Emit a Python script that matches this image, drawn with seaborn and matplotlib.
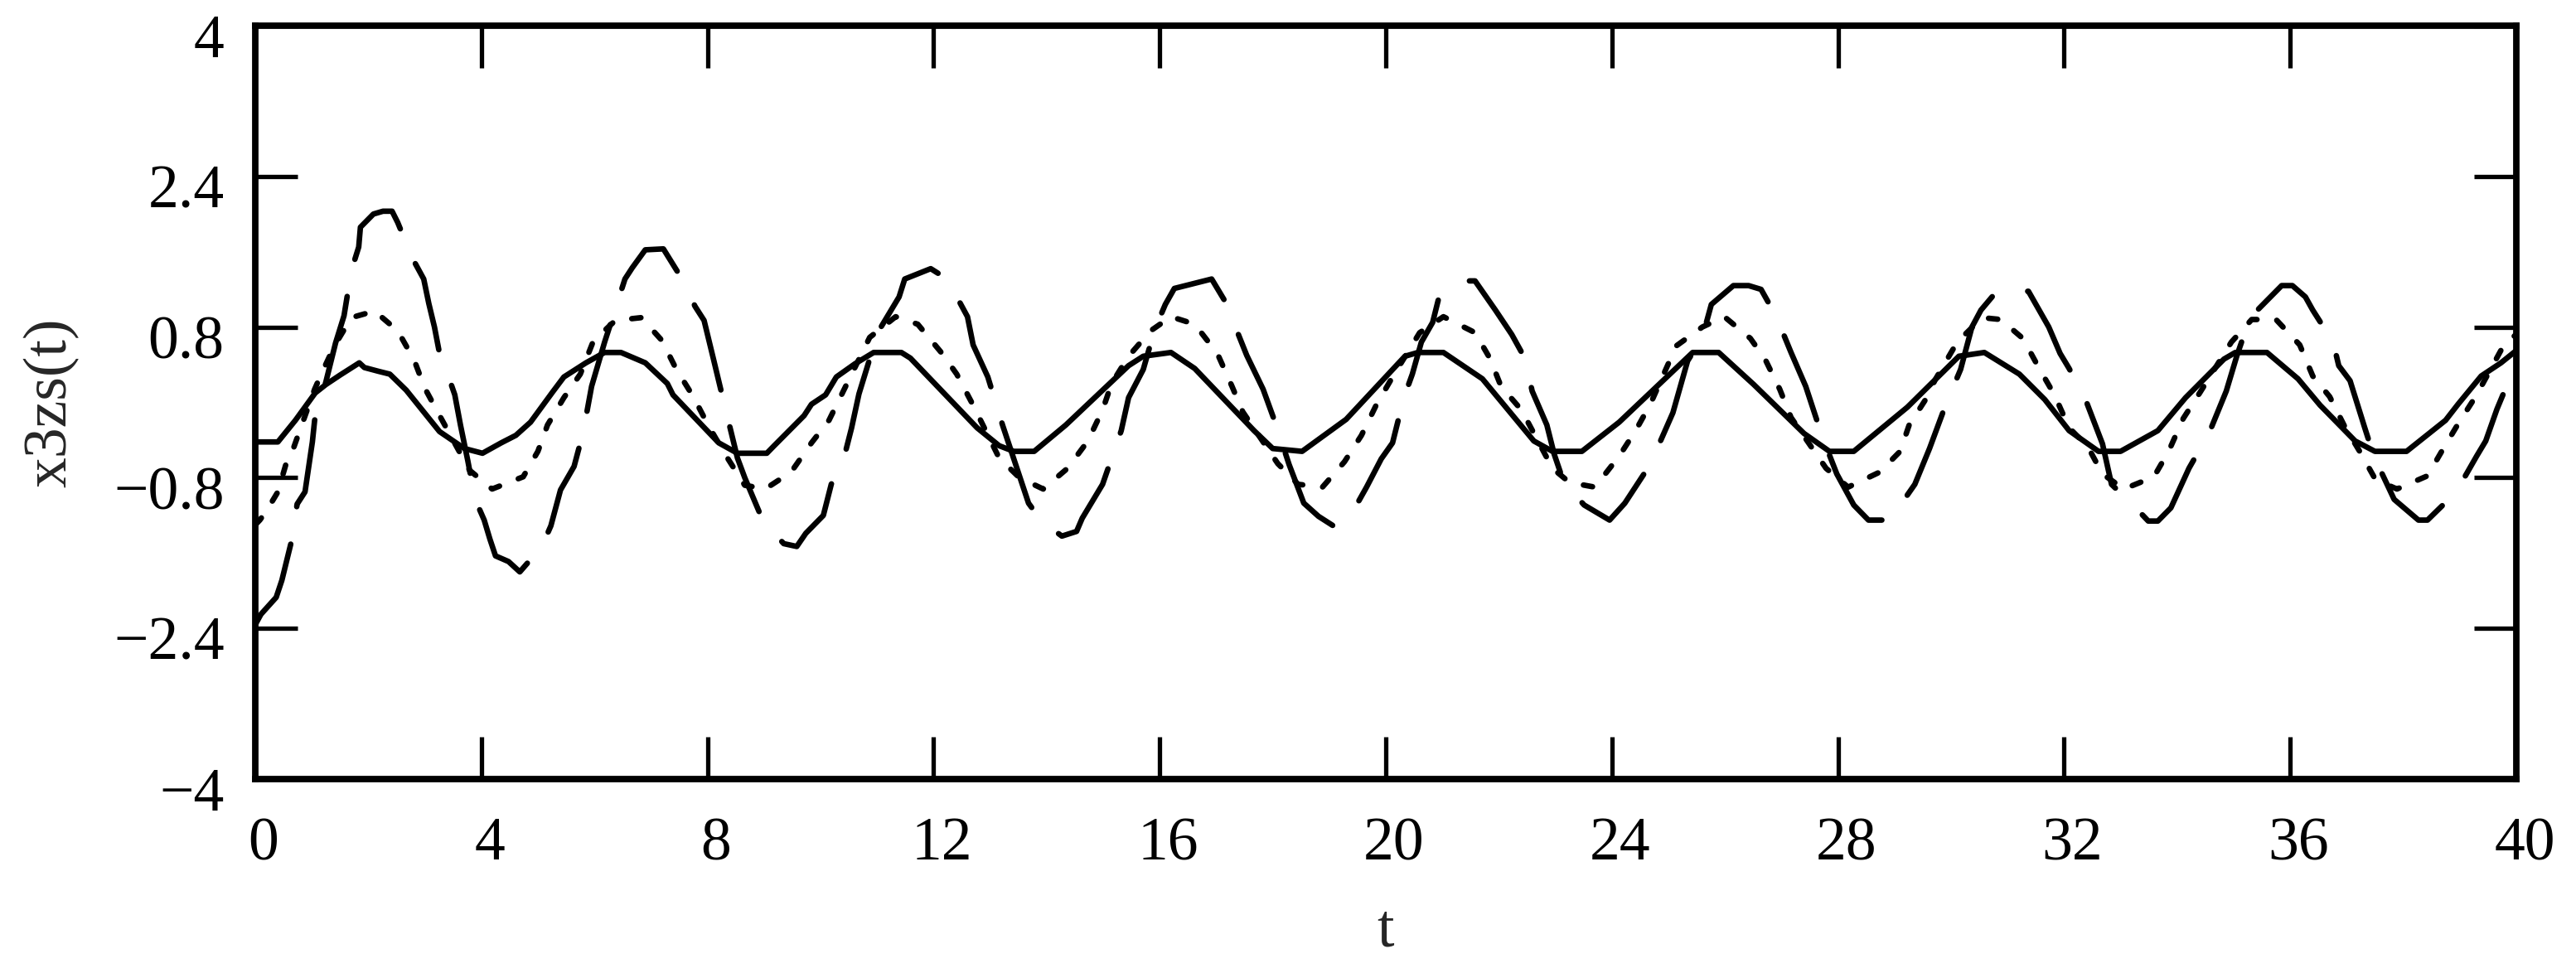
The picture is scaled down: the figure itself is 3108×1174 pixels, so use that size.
import matplotlib
matplotlib.use("Agg")
import matplotlib.pyplot as plt
import matplotlib.transforms as mtransforms
import pandas as pd
import seaborn as sns

# values, (t, x3zs) pairs for each trace
solid = [(0.00, -0.42), (0.40, -0.42), (0.71, -0.19), (1.06, 0.10), (1.25, 0.19), (1.50, 0.29),
         (1.84, 0.42), (1.93, 0.37), (2.18, 0.33), (2.38, 0.30), (2.67, 0.13), (3.26, -0.31),
         (3.70, -0.49), (4.02, -0.54), (4.35, -0.43), (4.61, -0.35), (4.87, -0.21), (5.26, 0.11),
         (5.46, 0.27), (5.85, 0.42), (6.18, 0.53), (6.47, 0.53), (6.90, 0.42), (7.29, 0.20),
         (7.39, 0.08), (8.20, -0.43), (8.53, -0.54), (9.05, -0.54), (9.18, -0.46), (9.71, -0.14),
         (9.84, -0.02), (10.09, 0.08), (10.28, 0.27), (10.61, 0.41), (10.94, 0.53), (11.43, 0.53),
         (11.59, 0.47), (12.77, -0.27), (13.16, -0.46), (13.42, -0.52), (13.78, -0.52), (14.34, -0.24),
         (15.45, 0.39), (15.71, 0.49), (16.20, 0.53), (16.62, 0.36), (17.67, -0.30), (18.00, -0.49),
         (18.52, -0.52), (19.30, -0.18), (20.34, 0.49), (20.57, 0.53), (21.02, 0.53), (21.71, 0.25),
         (22.62, -0.41), (22.95, -0.52), (23.47, -0.52), (24.13, -0.21), (25.43, 0.53), (25.89, 0.53),
         (26.51, 0.19), (27.40, -0.33), (27.85, -0.52), (28.28, -0.52), (29.23, -0.05), (30.14, 0.49),
         (30.59, 0.53), (31.21, 0.30), (31.66, 0.03), (32.09, -0.30), (32.61, -0.52), (33.00, -0.52),
         (33.66, -0.30), (34.15, 0.05), (34.83, 0.46), (35.03, 0.53), (35.59, 0.53), (36.14, 0.25),
         (36.53, -0.03), (37.15, -0.41), (37.50, -0.52), (38.06, -0.52), (38.75, -0.19), (38.97, -0.02),
         (39.38, 0.28), (39.73, 0.42), (40.00, 0.55)]

dotted = [(0.00, -1.30), (0.08, -1.25), (0.20, -1.15), (0.40, -0.95), (0.55, -0.64), (0.65, -0.53),
          (0.78, -0.31), (1.05, 0.14), (1.19, 0.33), (1.40, 0.60), (1.70, 0.90), (2.11, 0.97),
          (2.52, 0.76), (2.81, 0.45), (3.00, 0.15), (3.27, -0.15), (3.79, -0.72), (4.19, -0.92),
          (4.74, -0.79), (5.00, -0.52), (5.17, -0.24), (5.46, 0.05), (5.75, 0.30), (5.98, 0.65),
          (6.37, 0.87), (6.83, 0.90), (7.19, 0.66), (7.45, 0.35), (7.75, 0.06), (8.01, -0.24),
          (8.30, -0.54), (8.66, -0.88), (9.02, -0.92), (9.48, -0.74), (9.84, -0.43), (10.15, -0.19),
          (10.87, 0.69), (11.33, 0.91), (11.72, 0.83), (12.15, 0.52), (12.41, 0.30), (12.70, -0.03),
          (13.16, -0.59), (13.52, -0.80), (13.94, -0.92), (14.37, -0.70), (14.73, -0.41), (14.99, -0.08),
          (15.15, 0.20), (15.45, 0.49), (15.84, 0.76), (16.20, 0.91), (16.62, 0.83), (17.02, 0.52),
          (17.28, 0.17), (17.47, -0.10), (18.09, -0.65), (18.45, -0.87), (18.88, -0.90), (19.27, -0.63),
          (19.57, -0.35), (19.83, -0.03), (20.12, 0.27), (20.60, 0.74), (21.02, 0.91), (21.58, 0.74),
          (21.84, 0.47), (22.04, 0.17), (22.40, -0.08), (22.95, -0.70), (23.25, -0.85), (23.70, -0.90),
          (24.13, -0.57), (24.42, -0.30), (24.68, -0.02), (24.88, 0.25), (25.14, 0.60), (25.60, 0.80),
          (25.99, 0.91), (26.45, 0.68), (26.71, 0.46), (26.97, 0.14), (27.17, -0.16), (27.79, -0.70),
          (28.18, -0.90), (28.74, -0.74), (29.10, -0.52), (29.26, -0.24), (29.55, 0.03), (29.72, 0.24),
          (30.11, 0.64), (30.55, 0.90), (30.88, 0.88), (31.27, 0.68), (31.57, 0.35), (31.83, 0.08),
          (32.09, -0.27), (32.42, -0.47), (32.68, -0.76), (33.06, -0.92), (33.59, -0.79), (33.85, -0.52),
          (34.11, -0.17), (34.41, 0.11), (34.96, 0.64), (35.32, 0.88), (35.75, 0.88), (36.17, 0.61),
          (36.40, 0.28), (36.70, 0.06), (36.96, -0.25), (37.25, -0.54), (37.51, -0.82), (37.89, -0.92),
          (38.43, -0.78), (38.72, -0.48), (38.98, -0.22), (39.29, 0.07), (39.80, 0.63), (40.00, 0.72)]

longdash = [(0.00, -2.36), (0.10, -2.25), (0.37, -2.07), (0.47, -1.89), (0.65, -1.45), (0.74, -1.08),
            (0.88, -0.95), (1.01, -0.42), (1.05, -0.19), (1.25, 0.22), (1.42, 0.63), (1.57, 0.92),
            (1.70, 1.40), (1.83, 1.65), (1.86, 1.86), (2.09, 2.00), (2.26, 2.03), (2.42, 2.03),
            (2.52, 1.91), (2.78, 1.53), (2.98, 1.31), (3.07, 1.05), (3.17, 0.80), (3.25, 0.55),
            (3.42, 0.27), (3.53, 0.08), (3.63, -0.24), (3.76, -0.62), (3.89, -1.03), (4.05, -1.25),
            (4.15, -1.45), (4.25, -1.63), (4.48, -1.69), (4.68, -1.80), (5.07, -1.53), (5.23, -1.31),
            (5.40, -0.93), (5.64, -0.68), (5.80, -0.32), (5.95, 0.17), (6.18, 0.64), (6.38, 1.01),
            (6.54, 1.31), (6.67, 1.43), (6.90, 1.62), (7.22, 1.63), (7.55, 1.31), (7.78, 1.02),
            (7.94, 0.87), (8.11, 0.45), (8.27, 0.05), (8.53, -0.59), (8.66, -0.80), (8.92, -1.17),
            (9.05, -1.31), (9.35, -1.50), (9.58, -1.53), (9.74, -1.39), (10.05, -1.20), (10.19, -0.87),
            (10.41, -0.60), (10.55, -0.27), (10.68, 0.09), (10.90, 0.52), (11.07, 0.80), (11.39, 1.12),
            (11.49, 1.31), (11.95, 1.42), (12.24, 1.31), (12.60, 0.91), (12.70, 0.61), (12.96, 0.27),
            (13.22, -0.24), (13.42, -0.60), (13.68, -1.07), (13.91, -1.26), (14.27, -1.42), (14.53, -1.37),
            (14.63, -1.23), (14.99, -0.87), (15.32, -0.30), (15.45, 0.05), (15.71, 0.35), (15.91, 0.77),
            (16.10, 1.04), (16.26, 1.21), (16.92, 1.31), (17.18, 1.05), (17.38, 0.74), (17.54, 0.50),
            (17.83, 0.14), (18.06, -0.24), (18.29, -0.66), (18.55, -1.07), (18.81, -1.21), (19.07, -1.31),
            (19.37, -1.21), (19.66, -0.90), (19.92, -0.60), (20.12, -0.43), (20.32, 0.05), (20.47, 0.30),
            (20.63, 0.64), (20.83, 0.85), (20.93, 1.09), (21.12, 1.15), (21.38, 1.29), (21.58, 1.29),
            (21.94, 0.98), (22.23, 0.72), (22.46, 0.47), (22.59, 0.12), (22.85, -0.24), (22.98, -0.55),
            (23.15, -0.85), (23.51, -1.09), (23.96, -1.25), (24.23, -1.07), (24.59, -0.74), (24.78, -0.52),
            (25.08, -0.11), (25.34, 0.44), (25.60, 0.69), (25.76, 1.04), (26.15, 1.24), (26.42, 1.24),
            (26.64, 1.20), (26.91, 0.91), (27.17, 0.53), (27.43, 0.17), (27.72, -0.36), (27.98, -0.76),
            (28.28, -1.09), (28.54, -1.25), (28.90, -1.25), (29.00, -1.18), (29.36, -0.87), (29.62, -0.49),
            (29.91, -0.02), (30.17, 0.35), (30.37, 0.80), (30.53, 0.98), (30.81, 1.18), (31.37, 1.18),
            (31.73, 0.80), (31.93, 0.52), (32.09, 0.36), (32.38, 0.03), (32.68, -0.44), (32.84, -0.87),
            (33.30, -1.14), (33.49, -1.26), (33.66, -1.26), (33.89, -1.12), (34.21, -0.70), (34.57, -0.32),
            (34.87, 0.12), (35.06, 0.50), (35.29, 0.90), (35.85, 1.24), (36.04, 1.24), (36.27, 1.12),
            (36.40, 0.98), (36.76, 0.64), (36.86, 0.39), (37.06, 0.23), (37.32, -0.27), (37.48, -0.57),
            (37.84, -1.03), (38.27, -1.25), (38.43, -1.25), (38.89, -0.98), (39.10, -0.78), (39.30, -0.57),
            (39.46, -0.41), (39.66, -0.07), (40.00, 0.42)]

x_ticks = [0, 4, 8, 12, 16, 20, 24, 28, 32, 36, 40]
y_ticks = [-4, -2.4, -0.8, 0.8, 2.4, 4]
y_ticklabels = ["\u22124", "\u22122.4", "\u22120.8", "0.8", "2.4", "4"]

sns.set_style("ticks")
plt.rcParams["font.family"] = ["Liberation Serif", "DejaVu Serif"]
plt.rcParams["lines.scale_dashes"] = False

fig = plt.figure(figsize=(31.08, 11.74), dpi=100)
ax = fig.add_axes([0.0991, 0.1993, 0.8777, 0.7743])

lw = 4.8
df = pd.DataFrame(solid, columns=["t", "x"])
sns.lineplot(data=df, x="t", y="x", ax=ax, color="black", lw=lw,
             estimator=None, sort=False, solid_capstyle="round")

df = pd.DataFrame(dotted, columns=["t", "x"])
sns.lineplot(data=df, x="t", y="x", ax=ax, color="black", lw=lw,
             estimator=None, sort=False, linestyle=(0, (8.0, 17.5)), dash_capstyle="round")

df = pd.DataFrame(longdash, columns=["t", "x"])
sns.lineplot(data=df, x="t", y="x", ax=ax, color="black", lw=lw,
             estimator=None, sort=False, linestyle=(0, (78, 33)), dash_capstyle="round")

ax.set_xlim(0, 40)
ax.set_ylim(-4, 4)
ax.set_xticks(x_ticks)
ax.set_xticklabels([str(v) for v in x_ticks])
ax.set_yticks(y_ticks)
ax.set_yticklabels(y_ticklabels)

for s in ax.spines.values():
    s.set_visible(True)
    s.set_linewidth(5.6)
    s.set_color("black")

fs = 53
ax.tick_params(axis="both", which="major", direction="in", length=37, width=3.8,
               top=True, right=True, labelsize=fs, colors="black")
ax.tick_params(axis="y", pad=27)
ax.tick_params(axis="x", pad=33)

# tick labels sit a little below / right of their ticks in the original
down = mtransforms.ScaledTranslation(0, -0.12, fig.dpi_scale_trans)
right = mtransforms.ScaledTranslation(0.10, 0, fig.dpi_scale_trans)
for tk in ax.yaxis.get_major_ticks():
    tk.label1.set_transform(tk.label1.get_transform() + down)
for tk in ax.xaxis.get_major_ticks():
    tk.label1.set_transform(tk.label1.get_transform() + right)

ax.set_xlabel("t", fontsize=fs)
ax.set_ylabel("x3zs(t)", fontsize=fs)
ax.xaxis.label.set_va("baseline")
ax.xaxis.set_label_coords(0.5, -0.222)
ax.yaxis.set_label_coords(-0.078, 0.5)

fig.savefig("out.png", dpi=100, facecolor="white")
